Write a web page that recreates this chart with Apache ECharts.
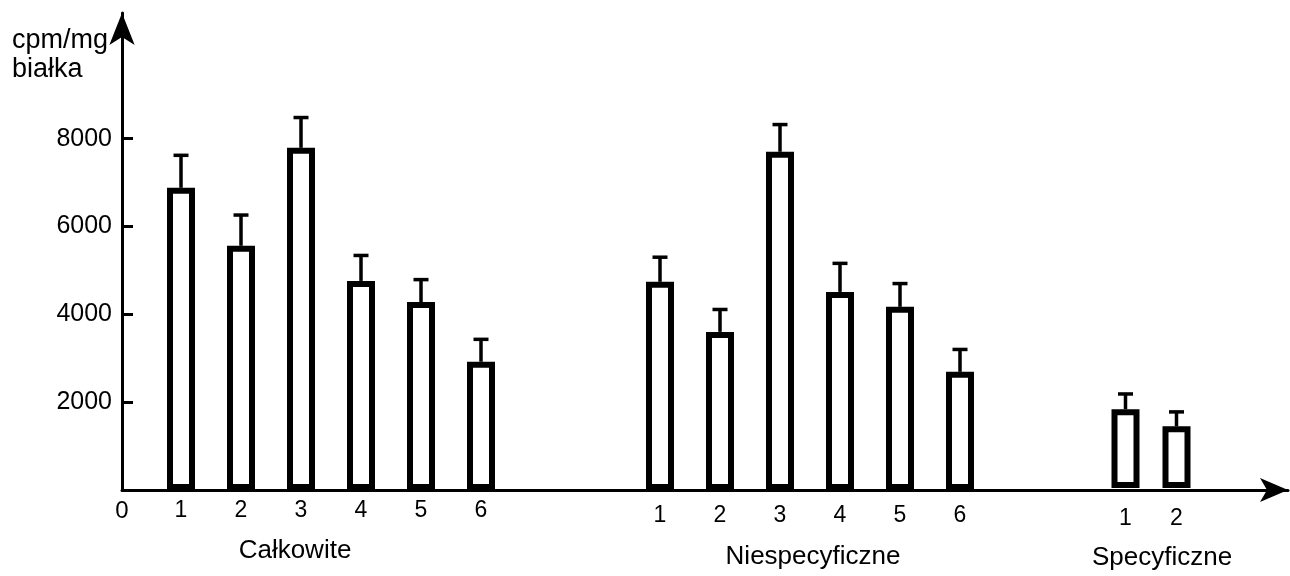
<!DOCTYPE html>
<html>
<head>
<meta charset="utf-8">
<script src="https://cdn.jsdelivr.net/npm/echarts@6/dist/echarts.min.js"></script>
<style>
html,body{margin:0;padding:0;background:#fff;}
#chart{width:1290px;height:576px;}
</style>
</head>
<body>
<div id="chart"></div>
<script>
// ---- data ----
const groupNames = ['Całkowite', 'Niespecyficzne', 'Specyficzne'];
const totalCats = ['1', '2', '3', '4', '5', '6'];
const totalVals = [6880, 5560, 7790, 4760, 4280, 2920];
const totalUpper = [7620, 6260, 8480, 5340, 4790, 3430];
const nonspecCats = ['1', '2', '3', '4', '5', '6'];
const nonspecVals = [4740, 3600, 7700, 4510, 4170, 2690];
const nonspecUpper = [5300, 4110, 8320, 5160, 4700, 3200];
const specCats = ['1', '2'];
const specVals = [1800, 1410];
const specUpper = [2150, 1740];
const yTicks = [2000, 4000, 6000, 8000];
const yMax = 10860;
const yName = 'cpm/mg\nbiałka';

// ---- layout / style ----
const FONT = 'Liberation Sans';
const TOP = 13, BOTTOM = 86;
const groups = [
  {cats: totalCats, vals: totalVals, upper: totalUpper, left: 151, width: 360, margin: 9, nameGap: 48, pad: [0, 72, 0, 0]},
  {cats: nonspecCats, vals: nonspecVals, upper: nonspecUpper, left: 630, width: 360, margin: 14, nameGap: 54, pad: [0, 0, 0, 6]},
  {cats: specCats, vals: specVals, upper: specUpper, left: 1100, width: 102, margin: 19, nameGap: 57, pad: [0, 0, 0, 22]}
];

const grids = [{left: 122, right: 2, top: TOP, bottom: BOTTOM}];
const xAxes = [{
  gridIndex: 0, type: 'value', min: 0, max: 1,
  axisLine: {show: true, lineStyle: {color: '#000', width: 3}, symbol: ['none', 'arrow'], symbolSize: [18, 28]},
  axisTick: {show: false}, splitLine: {show: false},
  axisLabel: {customValues: [0], formatter: () => '0', color: '#000', fontFamily: FONT, fontSize: 24, margin: 9}
}];
const yAxes = [{
  gridIndex: 0, type: 'value', min: 0, max: yMax, interval: 2000,
  axisLine: {show: true, lineStyle: {color: '#000', width: 3}, symbol: ['none', 'arrow'], symbolSize: [19, 32]},
  axisTick: {show: true, inside: true, length: 11, lineStyle: {color: '#000', width: 3}, customValues: yTicks},
  axisLabel: {customValues: yTicks, formatter: v => String(v), color: '#000', fontFamily: FONT, fontSize: 25, margin: 10},
  splitLine: {show: false}
}];
const series = [];

groups.forEach((g, gi) => {
  const idx = gi + 1;
  grids.push({left: g.left, width: g.width, top: TOP, bottom: BOTTOM});
  xAxes.push({
    gridIndex: idx, type: 'category', data: g.cats,
    axisLine: {show: false}, axisTick: {show: false}, splitLine: {show: false},
    axisLabel: {color: '#000', fontFamily: FONT, fontSize: 23, margin: g.margin},
    name: groupNames[gi], nameLocation: 'middle', nameGap: g.nameGap,
    nameTextStyle: {color: '#000', fontFamily: FONT, fontSize: 26, padding: g.pad}
  });
  yAxes.push({
    gridIndex: idx, type: 'value', min: 0, max: yMax, show: false, splitLine: {show: false}
  });
  series.push({
    type: 'bar', xAxisIndex: idx, yAxisIndex: idx,
    data: g.vals, barWidth: 28,
    itemStyle: {color: '#fff', borderColor: '#000', borderWidth: 6},
    emphasis: {disabled: true}, z: 3
  });
  series.push({
    type: 'custom', xAxisIndex: idx, yAxisIndex: idx,
    data: g.vals.map((v, i) => [i, v, g.upper[i]]),
    encode: {x: 0, y: [1, 2]},
    z: 4,
    renderItem: function (params, api) {
      const base = api.coord([api.value(0), api.value(1)]);
      const top = api.coord([api.value(0), api.value(2)]);
      const half = 7.5;
      return {
        type: 'group',
        children: [
          {type: 'line', shape: {x1: base[0], y1: base[1], x2: top[0], y2: top[1]}, style: {stroke: '#000', lineWidth: 3.5}},
          {type: 'line', shape: {x1: top[0] - half, y1: top[1], x2: top[0] + half, y2: top[1]}, style: {stroke: '#000', lineWidth: 3.5}}
        ]
      };
    }
  });
});

const chart = echarts.init(document.getElementById('chart'), null, {renderer: 'canvas'});
chart.setOption({
  backgroundColor: '#fff',
  animation: false,
  grid: grids,
  xAxis: xAxes,
  yAxis: yAxes,
  series: series,
  graphic: [{
    type: 'text', left: 12, top: 26,
    style: {text: yName, fill: '#000', fontFamily: FONT, fontSize: 27, lineHeight: 29}
  }]
});
</script>
</body>
</html>
